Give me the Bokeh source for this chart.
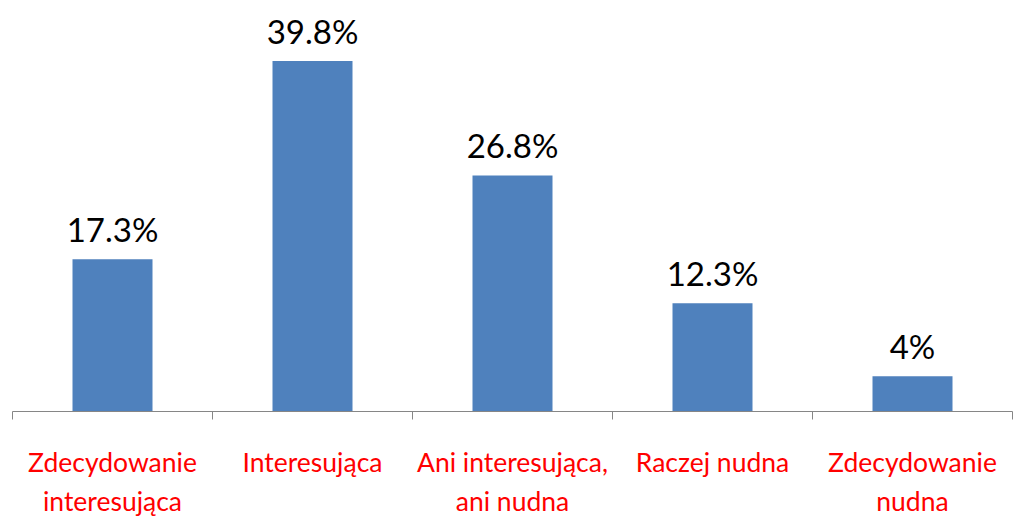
from bokeh.plotting import figure
from bokeh.models import ColumnDataSource, FixedTicker, Range1d
from bokeh.core.properties import value
from bokeh.embed import file_html
from bokeh.resources import INLINE

categories = ["Zdecydowanie\ninteresująca", "Interesująca", "Ani interesująca,\nani nudna", "Raczej nudna", "Zdecydowanie\nnudna"]
values = [17.3, 39.8, 26.8, 12.3, 4.0]
value_labels = [f"{v:g}%" for v in values]

x = [i + 0.5 for i in range(len(categories))]
src = ColumnDataSource(dict(x=x, top=values, lab=value_labels))

p = figure(width=1013, height=519, output_backend="svg", toolbar_location=None,
           x_range=Range1d(0, len(categories)), y_range=Range1d(0, 46.67),
           min_border_left=12, min_border_right=1, min_border_top=0, min_border_bottom=108)
p.outline_line_color = None
p.xgrid.visible = False
p.ygrid.visible = False
p.yaxis.visible = False

p.vbar(x="x", top="top", width=0.4, bottom=0, source=src, fill_color="#4F81BD", line_color=None)
p.text(x="x", y="top", text="lab", source=src, text_align="center", text_baseline="alphabetic",
       y_offset=-30, text_font=value("Lato"), text_font_size="33px", text_color="black")

ax = p.xaxis[0]
ax.ticker = FixedTicker(ticks=x, minor_ticks=list(range(len(categories) + 1)))
ax.major_label_overrides = {xi: c for xi, c in zip(x, categories)}
ax.major_tick_line_color = None
ax.major_tick_out = 0
ax.major_tick_in = 0
ax.minor_tick_line_color = "#868686"
ax.minor_tick_out = 8
ax.minor_tick_in = 0
ax.axis_line_color = "#868686"
ax.axis_line_width = 1
ax.major_label_text_color = "red"
ax.major_label_text_font = "Lato"
ax.major_label_text_font_size = "26.5px"
ax.major_label_text_line_height = 1.22
ax.major_label_standoff = 26

open("out.html", "w").write(file_html(p, INLINE))
